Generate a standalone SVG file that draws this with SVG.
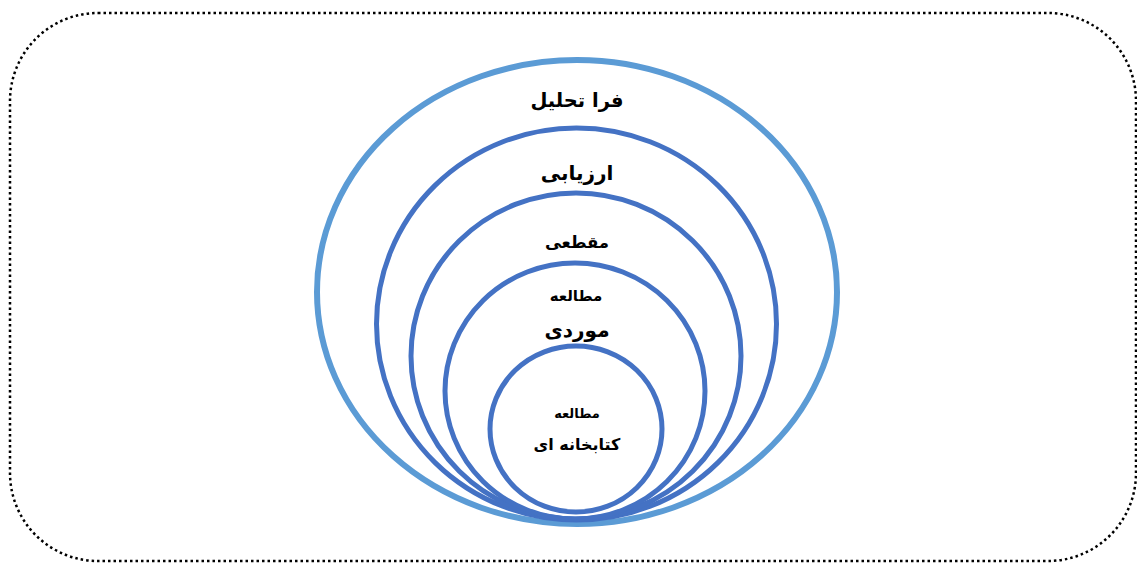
<svg xmlns="http://www.w3.org/2000/svg" width="1137" height="563" viewBox="0 0 1137 563">
<style>
.ring{fill:none;stroke:#4472C4;stroke-width:5}
.outer{fill:none;stroke:#5B9BD5;stroke-width:6}
.lbl{font-family:"DejaVu Sans",sans-serif;font-weight:bold;fill:#000;text-anchor:middle}
</style>
<rect x="10" y="13" width="1126" height="548" rx="88" ry="88" fill="#fff" stroke="#000" stroke-width="2.5" stroke-dasharray="2.5 3"/>
<g id="n1"><ellipse class="outer" cx="577" cy="292" rx="260" ry="232"/><text class="lbl" x="577" y="107" font-size="19.5">فرا تحلیل</text></g>
<g id="n2"><ellipse class="ring" cx="576.5" cy="324" rx="200" ry="196"/><text class="lbl" x="577" y="180" font-size="20">ارزیابی</text></g>
<g id="n3"><ellipse class="ring" cx="576" cy="356" rx="165" ry="163"/><text class="lbl" x="577" y="248" font-size="16.5">مقطعی</text></g>
<g id="n4"><ellipse class="ring" cx="575" cy="391" rx="130" ry="128"/><text class="lbl" x="576" y="301" font-size="15">مطالعه</text><text class="lbl" x="577" y="337" font-size="20">موردی</text></g>
<g id="n5"><ellipse class="ring" cx="576" cy="429" rx="86" ry="83"/><text class="lbl" x="577" y="418" font-size="13">مطالعه</text><text class="lbl" x="577" y="450" font-size="16">کتابخانه ای</text></g>
<g id="connectors"></g>
</svg>
